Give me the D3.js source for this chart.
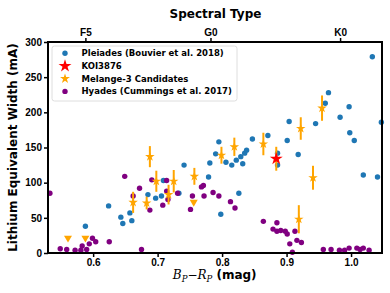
<!DOCTYPE html>
<html>
<head>
<meta charset="utf-8">
<script src="https://cdn.jsdelivr.net/npm/d3@7"></script>
<style>
  html, body { margin: 0; padding: 0; background: #fff; }
  svg { display: block; font-family: "DejaVu Sans", sans-serif; }
  .axis text { font-size: 10px; font-weight: bold; fill: #000; }
  .axis line { stroke: #000; stroke-width: 1.5; }
</style>
</head>
<body>
<svg id="chart" width="390" height="293"></svg>
<script>
// Pleiades (Bouvier et al. 2018)
const pleiadesBPRP = [0.588, 0.624, 0.643, 0.646, 0.657, 0.660, 0.685, 0.697, 0.706, 0.709,
  0.733, 0.741, 0.779, 0.781, 0.790, 0.795, 0.798, 0.806, 0.815, 0.822, 0.829, 0.832, 0.835,
  0.838, 0.847, 0.871, 0.826, 0.886, 0.886, 0.901, 0.904, 0.918, 0.945, 0.960, 0.965, 0.983,
  0.997, 0.998, 1.005, 1.019, 1.033, 1.041, 1.047];
const pleiadesEW = [38, 67, 51, 42, 57, 46, 83, 78, 81, 103,
  85, 125, 108, 128, 141, 158, 55, 129, 125, 132, 137, 127, 142,
  146, 162, 167, 85, 125, 142, 160, 187, 140, 184, 213, 228, 193,
  208, 171, 160, 111, 279, 108, 186];

// Hyades (Cummings et al. 2017)
const hyadesBPRP = [0.533, 0.649, 0.662, 0.672, 0.691, 0.688, 0.708, 0.714, 0.714, 0.716,
  0.731, 0.751, 0.754, 0.768, 0.771, 0.772, 0.786, 0.795, 0.813, 0.820, 0.864, 0.885, 0.879,
  0.885, 0.891, 0.898, 0.901, 0.913, 0.916, 0.923, 0.905, 0.909, 0.957, 0.969, 0.982, 0.990,
  0.997, 1.009, 1.014, 1.019, 1.028, 0.625, 0.675, 0.549, 0.559, 0.572, 0.581, 0.583, 0.590,
  0.594, 0.599, 0.604];
const hyadesEW = [85, 109, 81, 92, 104, 61, 68, 103, 88, 76,
  85, 62, 81, 94, 96, 81, 86, 81, 73, 64, 45, 43, 34,
  31, 32, 31, 27, 31, 18, 15, 13, 1, 5, 5, 4, 4,
  7, 7, 5, 7, 4, 16, 5, 6, 5, 4, 4, 10, 5,
  13, 21, 16];

// Melange-3 candidates (detections with errors)
const melangeBPRP = [0.662, 0.683, 0.688, 0.698, 0.717, 0.725, 0.757, 0.799, 0.819, 0.864,
  0.922, 0.955, 0.941, 0.919];
const melangeEW = [72, 71, 137, 102, 83, 102, 109, 139, 151, 155, 177, 206, 107, 48];
const melangeErr = [15, 9, 15, 15, 14, 16, 12, 12, 13, 16, 16, 18, 17, 20];

// Melange-3 candidates (upper limits)
const limitBPRP = [0.561, 0.588, 0.756];
const limitEW = [20, 20, 71];

// KOI3876
const koiBPRP = [0.884];
const koiEW = [134];
const koiErr = [17];

// spectral types on the top axis
const spectralTypes = ['F5', 'G0', 'K0'];
const spectralBPRP = [0.588, 0.782, 0.983];

const yTicks = [0, 50, 100, 150, 200, 250, 300];
const xTicks = [0.6, 0.7, 0.8, 0.9, 1.0];

const legendLabels = ['Pleiades (Bouvier et al. 2018)', 'KOI3876', 'Melange-3 Candidates', 'Hyades (Cummings et al. 2017)'];

const BLUE = '#1f77b4', PURPLE = '#800080', ORANGE = '#ffa500', RED = '#ff0000';

function starPath (r) {
    const pts = [];
    for (let i = 0; i < 10; i++) {
        const rr = i % 2 === 0 ? r : r * 0.382;
        const a = -Math.PI / 2 + i * Math.PI / 5;
        pts.push([rr * Math.cos(a), rr * Math.sin(a)]);
    }
    return 'M' + pts.map(p => p[0].toFixed(2) + ',' + p[1].toFixed(2)).join('L') + 'Z';
}

const svg = d3.select('#chart');
const plotLeft = 48, plotRight = 382, plotTop = 42, plotBottom = 253;

const x = d3.scaleLinear().domain([0.53, 1.048]).range([plotLeft, plotRight]);
const y = d3.scaleLinear().domain([0, 300]).range([plotBottom, plotTop]);

// AXES

svg.append('g')
    .attr('class', 'axis')
    .attr('transform', `translate(0,${plotBottom})`)
    .call(d3.axisBottom(x).tickValues(xTicks).tickFormat(d3.format('.1f')).tickSize(4).tickPadding(2));

svg.append('g')
    .attr('class', 'axis')
    .attr('transform', `translate(${plotLeft},0)`)
    .call(d3.axisLeft(y).tickValues(yTicks).tickSize(4).tickPadding(2));

svg.append('g')
    .attr('class', 'axis')
    .attr('transform', `translate(0,${plotTop})`)
    .call(d3.axisTop(x).tickValues(spectralBPRP).tickFormat((d, i) => spectralTypes[i]).tickSize(4).tickPadding(2));

svg.selectAll('.axis .domain').remove();

// DATA POINTS

const plot = svg.append('g');

plot.selectAll('.pleiades')
    .data(pleiadesBPRP.map((d, i) => [d, pleiadesEW[i]]))
    .enter().append('circle')
    .attr('class', 'pleiades')
    .attr('cx', d => x(d[0]))
    .attr('cy', d => y(d[1]))
    .attr('r', 2.7)
    .attr('fill', BLUE);

plot.selectAll('.hyades')
    .data(hyadesBPRP.map((d, i) => [d, hyadesEW[i]]))
    .enter().append('circle')
    .attr('class', 'hyades')
    .attr('cx', d => x(d[0]))
    .attr('cy', d => y(d[1]))
    .attr('r', 2.7)
    .attr('fill', PURPLE);

const melange = melangeBPRP.map((d, i) => [d, melangeEW[i], melangeErr[i]]);

plot.selectAll('.errbar')
    .data(melange.concat([[koiBPRP[0], koiEW[0], koiErr[0]]]))
    .enter().append('line')
    .attr('class', 'errbar')
    .attr('x1', d => x(d[0]))
    .attr('x2', d => x(d[0]))
    .attr('y1', d => y(d[1] - d[2]))
    .attr('y2', d => y(d[1] + d[2]))
    .attr('stroke', ORANGE)
    .attr('stroke-width', 2);

plot.selectAll('.melange')
    .data(melange)
    .enter().append('path')
    .attr('class', 'melange')
    .attr('d', starPath(5))
    .attr('transform', d => `translate(${x(d[0])},${y(d[1])})`)
    .attr('fill', ORANGE);

plot.selectAll('.limit')
    .data(limitBPRP.map((d, i) => [d, limitEW[i]]))
    .enter().append('path')
    .attr('class', 'limit')
    .attr('d', 'M-4,-3.3L4,-3.3L0,3.6Z')
    .attr('transform', d => `translate(${x(d[0])},${y(d[1])})`)
    .attr('fill', ORANGE);

plot.selectAll('.koi')
    .data(koiBPRP.map((d, i) => [d, koiEW[i]]))
    .enter().append('path')
    .attr('class', 'koi')
    .attr('d', starPath(6.8))
    .attr('transform', d => `translate(${x(d[0])},${y(d[1])})`)
    .attr('fill', RED);

// FRAME

svg.append('rect')
    .attr('x', plotLeft)
    .attr('y', plotTop)
    .attr('width', plotRight - plotLeft)
    .attr('height', plotBottom - plotTop)
    .attr('fill', 'none')
    .attr('stroke', '#000')
    .attr('stroke-width', 2);

// LEGEND

const legend = svg.append('g').attr('transform', 'translate(52,46)');
legend.append('rect')
    .attr('width', 185)
    .attr('height', 55)
    .attr('rx', 2.5)
    .attr('fill', '#fff')
    .attr('fill-opacity', 0.8)
    .attr('stroke', '#d5d5d5')
    .attr('stroke-width', 0.8);

const rows = legend.selectAll('.row')
    .data(legendLabels)
    .enter().append('g')
    .attr('class', 'row')
    .attr('transform', (d, i) => `translate(13,${7.3 + i * 12.7})`);

rows.each(function (d, i) {
    const g = d3.select(this);
    if (i === 0 || i === 3) {
        g.append('circle').attr('r', 2.7).attr('fill', i === 0 ? BLUE : PURPLE);
    } else if (i === 1) {
        g.append('path').attr('d', starPath(6.8)).attr('fill', RED);
    } else {
        g.append('path').attr('d', starPath(5.2)).attr('fill', ORANGE);
    }
    g.append('text')
        .attr('x', 16.5)
        .attr('y', 3)
        .attr('font-size', 8.5)
        .attr('font-weight', 'bold')
        .text(d);
});

// TEXT

svg.append('text')
    .attr('x', 215.5)
    .attr('y', 17.5)
    .attr('text-anchor', 'middle')
    .attr('font-size', 12)
    .attr('font-weight', 'bold')
    .text('Spectral Type');

svg.append('text')
    .attr('transform', `translate(17,${(plotTop + plotBottom) / 2}) rotate(-90)`)
    .attr('text-anchor', 'middle')
    .attr('font-size', 12)
    .attr('font-weight', 'bold')
    .text('Lithium Equivalent Width (mA)');

const xl = svg.append('text')
    .attr('x', 214.7)
    .attr('y', 279)
    .attr('text-anchor', 'middle')
    .attr('font-size', 12);
const mathFont = 'DejaVu Serif';
xl.append('tspan').attr('font-family', mathFont).attr('font-style', 'italic').text('B');
xl.append('tspan').attr('font-family', mathFont).attr('font-style', 'italic').attr('font-size', 8.5).attr('dy', 2.5).text('P');
xl.append('tspan').attr('font-family', mathFont).attr('dy', -2.5).text('\u2212');
xl.append('tspan').attr('font-family', mathFont).attr('font-style', 'italic').text('R');
xl.append('tspan').attr('font-family', mathFont).attr('font-style', 'italic').attr('font-size', 8.5).attr('dy', 2.5).text('P');
xl.append('tspan').attr('font-weight', 'bold').attr('dy', -2.5).text('\u00a0(mag)');
</script>
</body>
</html>
